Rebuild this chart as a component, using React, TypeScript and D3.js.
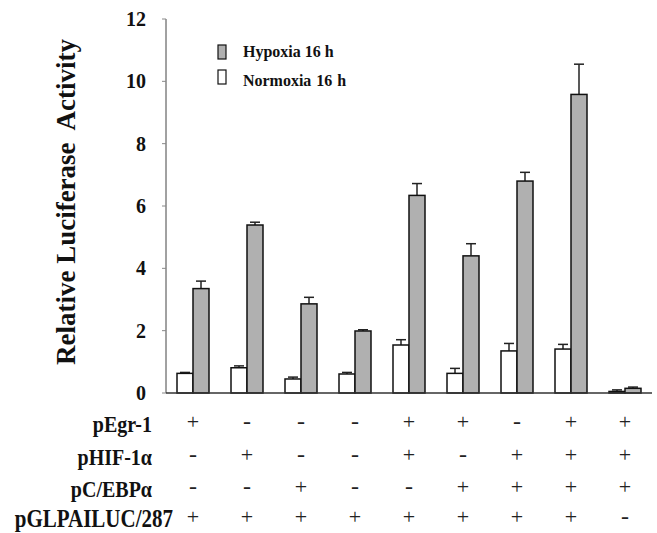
import React from "react";
import * as d3 from "d3";

const groups = ["1", "2", "3", "4", "5", "6", "7", "8", "9"];
const normoxia = [0.63, 0.81, 0.45, 0.61, 1.54, 0.63, 1.35, 1.41, 0.05];
const normoxiaErr = [0.03, 0.06, 0.06, 0.05, 0.17, 0.16, 0.24, 0.15, 0.05];
const hypoxia = [3.35, 5.39, 2.86, 1.99, 6.34, 4.4, 6.8, 9.58, 0.15];
const hypoxiaErr = [0.24, 0.09, 0.21, 0.04, 0.38, 0.39, 0.28, 0.97, 0.04];
const yTicks = [0, 2, 4, 6, 8, 10, 12];
const rowLabels = ["pEgr-1", "pHIF-1\u03b1", "pC/EBP\u03b1", "pGLPAILUC/287"];
const rowSigns = [
  ["+", "-", "-", "-", "+", "+", "-", "+", "+"],
  ["-", "+", "-", "-", "+", "-", "+", "+", "+"],
  ["-", "-", "+", "-", "-", "+", "+", "+", "+"],
  ["+", "+", "+", "+", "+", "+", "+", "+", "-"],
];
const seriesNames = ["Hypoxia 16 h", "Normoxia 16 h"];

const W = 657;
const H = 533;
const FONT = "'Liberation Serif', 'Times New Roman', serif";
const GRAY = "#b0b0b0";

export default function App() {
  const x = d3
    .scaleBand<string>()
    .domain(groups)
    .range([166, 652])
    .paddingInner(22 / 54)
    .paddingOuter(11 / 54);
  const sub = d3
    .scaleBand<string>()
    .domain(["n", "h"])
    .range([0, x.bandwidth()]);
  const y = d3.scaleLinear().domain([0, 12]).range([393, 19]);

  const labelBase = [432, 465, 497, 527];

  const bars: any[] = [];
  groups.forEach((g, i) => {
    const series = [
      { key: "n", v: normoxia[i], e: normoxiaErr[i], fill: "#ffffff" },
      { key: "h", v: hypoxia[i], e: hypoxiaErr[i], fill: GRAY },
    ];
    series.forEach((s) => {
      const bx = (x(g) as number) + (sub(s.key) as number);
      const bw = sub.bandwidth();
      const cx = bx + bw / 2;
      bars.push(
        <g key={g + s.key}>
          <line x1={cx} x2={cx} y1={y(s.v)} y2={y(s.v + s.e)} stroke="#222" strokeWidth={1.5} />
          <line x1={cx - 5} x2={cx + 5} y1={y(s.v + s.e)} y2={y(s.v + s.e)} stroke="#222" strokeWidth={1.5} />
          <rect x={bx} y={y(s.v)} width={bw} height={y(0) - y(s.v)} fill={s.fill} stroke="#111" strokeWidth={1.5} />
        </g>
      );
    });
  });

  return (
    <svg width={W} height={H} style={{ position: "absolute", left: 0, top: 0, background: "#fff" }} fontFamily={FONT}>
      {/* y axis */}
      <line x1={166} x2={166} y1={y(12)} y2={y(0)} stroke="#444" strokeWidth={1} />
      {yTicks.map((t) => (
        <g key={t}>
          <line x1={162} x2={166} y1={y(t)} y2={y(t)} stroke="#888" strokeWidth={1} />
          <text x={146} y={y(t)} dy="0.35em" textAnchor="end" fontSize={20} fontWeight="bold" fill="#111">
            {t}
          </text>
        </g>
      ))}
      <text
        transform="translate(75, 202) rotate(-90)"
        textAnchor="middle"
        fontSize={27}
        fontWeight="bold"
        fill="#111"
        style={{ whiteSpace: "pre" }}
      >
        {"Relative Luciferase  Activity"}
      </text>

      {bars}
      {/* x axis */}
      <line x1={166} x2={652} y1={y(0)} y2={y(0)} stroke="#333" strokeWidth={1.5} />

      {/* legend */}
      <rect x={218} y={45} width={8} height={14} fill={GRAY} stroke="#111" strokeWidth={1.2} />
      <rect x={218} y={70} width={8} height={14} fill="#fff" stroke="#111" strokeWidth={1.2} />
      <text transform="translate(243, 57) scale(1, 1.1)" fontSize={16} fontWeight="bold" fill="#111">
        {seriesNames[0]}
      </text>
      <text transform="translate(243, 86) scale(1, 1.1)" fontSize={16} fontWeight="bold" fill="#111" wordSpacing={1}>
        {seriesNames[1]}
      </text>

      {/* condition table */}
      {rowLabels.map((lab, r) => (
        <g key={lab}>
          <text
            transform={`translate(${r === 3 ? 173 : 152}, ${labelBase[r]}) scale(1, 1.2)`}
            textAnchor="end"
            fontSize={r === 3 ? 21 : 20}
            fontWeight="bold"
            fill="#111"
          >
            {lab}
          </text>
          {rowSigns[r].map((s, i) => (
            <text
              key={i}
              x={(x(groups[i]) as number) + x.bandwidth() / 2}
              y={labelBase[r] - 3}
              textAnchor="middle"
              fontSize={s === "+" ? 22 : 24}
              fill="#222"
            >
              {s}
            </text>
          ))}
        </g>
      ))}
    </svg>
  );
}
